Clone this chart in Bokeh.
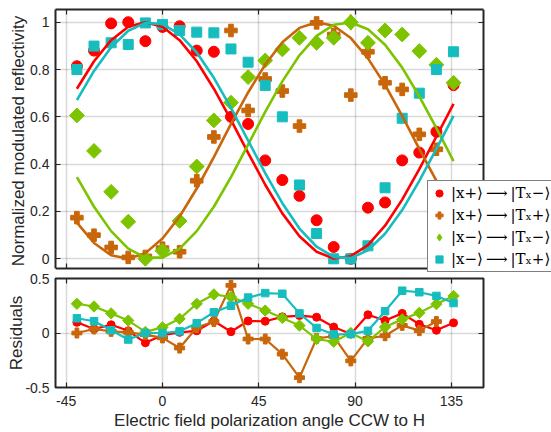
from bokeh.plotting import figure
from bokeh.models import (Range1d, LinearAxis, FixedTicker, Legend, LegendItem,
                          ColumnDataSource)
from bokeh.embed import file_html
from bokeh.resources import INLINE

# ---------------- data ----------------
angles = [-40, -32, -24, -16, -8, 0, 8, 16, 24, 32, 40, 48, 56, 64, 72, 80, 88, 96, 104, 112, 120, 128, 136]
angles_b = [-40, -32, -24, -16, -8, 0, 8, 16, 24, 32, 40, 48, 56, 64, 72, 80, 88, 96, 104, 112, 120, 128]

# measured normalized reflectivity
red_data = [0.814, 0.88, 0.995, 1.0, 0.92, 0.98, 0.983, 0.88, 0.875, 0.60, 0.57, 0.416, 0.333, 0.266, 0.163, 0.05, 0.0, 0.216, 0.238, 0.416, 0.449, 0.537, 0.734]
brown_data = [0.174, 0.10, 0.048, 0.006, 0.01, 0.045, 0.03, 0.33, 0.515, 0.965, 0.627, 0.76, 0.709, 0.561, 0.997, 0.948, 0.692, 0.875, 0.744, 0.716, 0.526, 0.463]
green_data = [0.606, 0.456, 0.283, 0.157, 0.0, 0.034, 0.16, 0.39, 0.585, 0.66, 0.768, 0.838, 0.885, 0.934, 0.913, 0.934, 1.0, 0.913, 0.965, 0.948, 0.878, 0.82, 0.744]
cyan_data = [0.80, 0.899, 0.913, 0.906, 0.997, 0.99, 0.965, 0.958, 0.955, 0.887, 0.831, 0.733, 0.60, 0.312, 0.107, 0.0, 0.0, 0.055, 0.30, 0.594, 0.70, 0.80, 0.875]

# fitted curves read at the same angles
red_fit = [0.719, 0.835, 0.924, 0.981, 1.000, 0.981, 0.924, 0.835, 0.719, 0.587, 0.448, 0.313, 0.192, 0.095, 0.030, 0.001, 0.011, 0.058, 0.140, 0.250, 0.379, 0.517, 0.655]
brown_fit = [0.153, 0.067, 0.015, 0.000, 0.024, 0.086, 0.179, 0.297, 0.430, 0.570, 0.703, 0.821, 0.915, 0.976, 1.000, 0.985, 0.933, 0.847, 0.735, 0.604, 0.465, 0.329, 0.206]
green_fit = [0.345, 0.220, 0.117, 0.043, 0.005, 0.005, 0.043, 0.117, 0.220, 0.345, 0.483, 0.621, 0.750, 0.860, 0.942, 0.989, 0.999, 0.970, 0.905, 0.808, 0.687, 0.552, 0.413]
cyan_fit = [0.671, 0.794, 0.894, 0.964, 0.997, 0.992, 0.949, 0.872, 0.765, 0.638, 0.500, 0.362, 0.235, 0.128, 0.051, 0.008, 0.003, 0.036, 0.106, 0.206, 0.329, 0.465, 0.604]

# residuals
red_res = [0.098, 0.037, 0.075, 0.02, -0.09, -0.02, 0.006, 0.02, 0.11, 0.012, 0.11, 0.108, 0.148, 0.16, 0.145, 0.055, -0.01, 0.167, 0.114, 0.18, 0.08, 0.025, 0.093]
brown_res = [0.0, 0.037, 0.015, 0.006, -0.015, -0.045, -0.138, 0.05, 0.105, 0.437, -0.055, -0.055, -0.194, -0.41, -0.05, -0.03, -0.256, -0.05, -0.025, 0.07, 0.022, 0.105]
green_res = [0.268, 0.243, 0.18, 0.114, 0.01, 0.052, 0.13, 0.268, 0.354, 0.33, 0.268, 0.206, 0.138, 0.068, -0.055, -0.08, 0.0, -0.077, 0.055, 0.125, 0.185, 0.265, 0.34]
cyan_res = [0.135, 0.108, 0.025, -0.06, 0.0, 0.0, 0.015, 0.09, 0.19, 0.25, 0.325, 0.366, 0.36, 0.18, 0.046, -0.012, -0.01, 0.02, 0.2, 0.388, 0.374, 0.34, 0.275]

legend_labels = ["|x+⟩\u2009⟶\u2009|Tₓ−⟩", "|x+⟩\u2009⟶\u2009|Tₓ+⟩", "|x−⟩\u2009⟶\u2009|Tₓ−⟩", "|x−⟩\u2009⟶\u2009|Tₓ+⟩"]

x_ticks = [-45, 0, 45, 90, 135]
x_tick_labels = ["-45", "0", "45", "90", "135"]
y_ticks = [0, 0.2, 0.4, 0.6, 0.8, 1]
y_tick_labels = ["0", "0.2", "0.4", "0.6", "0.8", "1"]
r_ticks = [-0.5, 0, 0.5]
r_tick_labels = ["-0.5", "0", "0.5"]

# axis limits of the two panels
X_LIM = (-50, 150)
Y_LIM = (-0.0397, 1.0537)
R_LIM = (-0.5, 0.5)

# ---------------- styling ----------------
RED = "#FF0000"
BROWN = "#C9660A"
GREEN = "#7DC400"
CYAN = "#17BDBE"
AX = "#262626"
FONT = "Liberation Sans"


def style_axis(ax, ticks, labels, show, line=False):
    ax.ticker = FixedTicker(ticks=ticks)
    ax.major_tick_in = 5
    ax.major_tick_out = 0
    ax.minor_tick_line_color = None
    ax.axis_line_color = AX if line else None
    ax.axis_line_width = 2
    ax.major_tick_line_color = AX
    ax.major_tick_line_width = 1.2
    ax.major_label_text_font = FONT
    ax.major_label_text_color = AX
    if show:
        ax.major_label_overrides = {t: s for t, s in zip(ticks, labels)}
        ax.major_label_text_font_size = "14px"
    else:
        ax.major_label_overrides = {t: "" for t in ticks}
        ax.major_label_text_font_size = "0px"
        ax.major_label_standoff = 0
    ax.axis_label_text_font = FONT
    ax.axis_label_text_font_size = "17px"
    ax.axis_label_text_font_style = "normal"
    ax.axis_label_text_color = AX


def style_grid(g, ticks, cross):
    g.ticker = FixedTicker(ticks=ticks)
    g.grid_line_color = "black"
    g.grid_line_alpha = 0.15
    g.grid_line_width = 1.5
    if cross is not None:
        g.cross_bounds = cross


# ---------------- top panel ----------------
# The frame of this figure runs on to the right edge so that the legend can
# overhang the panel box; the box itself is drawn by bounded axes.
PX_PER_DEG = 428 / (X_LIM[1] - X_LIM[0])
PX_PER_UNIT = 236.6
TOP_W, TOP_H, TOP_L, TOP_T = 551, 272, 55, 9
p1 = figure(width=TOP_W, height=TOP_H,
            x_range=Range1d(X_LIM[0], X_LIM[0] + (TOP_W - TOP_L) / PX_PER_DEG),
            y_range=Range1d(Y_LIM[1] - (TOP_H - TOP_T) / PX_PER_UNIT, Y_LIM[1]),
            output_backend="svg", toolbar_location=None,
            min_border_left=TOP_L, min_border_right=0, min_border_top=TOP_T, min_border_bottom=0)
p1.outline_line_color = None
p1.background_fill_color = "white"
p1.border_fill_color = "white"
style_grid(p1.xgrid[0], x_ticks, Y_LIM)
style_grid(p1.ygrid[0], y_ticks, X_LIM)

style_axis(p1.yaxis[0], y_ticks, y_tick_labels, True, line=True)
p1.yaxis[0].bounds = Y_LIM
p1.yaxis[0].axis_label = "Normalized modulated reflectivity"
p1.yaxis[0].major_label_standoff = 6
p1.yaxis[0].axis_label_standoff = -1

style_axis(p1.xaxis[0], x_ticks, x_tick_labels, False, line=True)
p1.xaxis[0].bounds = X_LIM
p1.xaxis[0].fixed_location = Y_LIM[0]

top_ax = LinearAxis()
style_axis(top_ax, x_ticks, x_tick_labels, False, line=True)
top_ax.bounds = X_LIM
p1.add_layout(top_ax, "above")

right_ax = LinearAxis()
style_axis(right_ax, y_ticks, y_tick_labels, False, line=True)
right_ax.bounds = Y_LIM
right_ax.fixed_location = X_LIM[1]
p1.add_layout(right_ax, "right")

src_r = ColumnDataSource(dict(x=angles, y=red_data))
src_b = ColumnDataSource(dict(x=angles_b, y=brown_data))
src_g = ColumnDataSource(dict(x=angles, y=green_data))
src_c = ColumnDataSource(dict(x=angles, y=cyan_data))
# one green point, drawn underneath, carries the legend's MATLAB-style diamond
src_gk = ColumnDataSource(dict(x=angles[16:17], y=green_data[16:17]))

m_r = p1.scatter("x", "y", source=src_r, marker="circle", size=11, fill_color=RED, line_color=RED)
m_b = p1.scatter("x", "y", source=src_b, marker="plus", size=12.5, fill_color=BROWN, line_color=BROWN)
m_g_key = p1.scatter("x", "y", source=src_gk, marker="diamond", size=16, fill_color=GREEN, line_color=GREEN)
m_g = p1.scatter("x", "y", source=src_g, marker="square", angle=0.7854, size=10.5, fill_color=GREEN, line_color=GREEN)
m_c = p1.scatter("x", "y", source=src_c, marker="square", size=10, fill_color=CYAN, line_color=CYAN)

p1.line(angles, red_fit, line_color=RED, line_width=2.6)
p1.line(angles, brown_fit, line_color=BROWN, line_width=2.6)
p1.line(angles, green_fit, line_color=GREEN, line_width=2.6)
p1.line(angles, cyan_fit, line_color=CYAN, line_width=2.6)

legend = Legend(items=[LegendItem(label=lab, renderers=[r]) for lab, r in
                       zip(legend_labels, [m_r, m_b, m_g_key, m_c])],
                location=(372, 0), orientation="vertical",
                label_text_font="DejaVu Serif", label_text_font_size="15px",
                label_text_color="black",
                glyph_width=18, glyph_height=20, label_height=20, label_standoff=3,
                spacing=2, padding=2, margin=0,
                border_line_color="black", border_line_width=1,
                background_fill_color="white", background_fill_alpha=1.0)
p1.add_layout(legend)

# ---------------- residual panel ----------------
p2 = figure(width=551, height=432 - TOP_H, x_range=Range1d(*X_LIM), y_range=Range1d(*R_LIM),
            output_backend="svg", toolbar_location=None,
            min_border_left=55, min_border_right=68, min_border_top=6, min_border_bottom=45)
p2.outline_line_color = AX
p2.outline_line_width = 2
p2.background_fill_color = "white"
p2.border_fill_color = "white"
style_grid(p2.xgrid[0], x_ticks, None)
style_grid(p2.ygrid[0], r_ticks, None)

style_axis(p2.xaxis[0], x_ticks, x_tick_labels, True)
p2.xaxis[0].axis_label = "Electric field polarization angle CCW to H"
p2.xaxis[0].major_label_standoff = 8
p2.xaxis[0].axis_label_standoff = 2
style_axis(p2.yaxis[0], r_ticks, r_tick_labels, True)
p2.yaxis[0].axis_label = "Residuals"
p2.yaxis[0].major_label_standoff = 6
p2.yaxis[0].axis_label_standoff = -4
top_ax2 = LinearAxis()
style_axis(top_ax2, x_ticks, x_tick_labels, False)
p2.add_layout(top_ax2, "above")
right_ax2 = LinearAxis()
style_axis(right_ax2, r_ticks, r_tick_labels, False)
p2.add_layout(right_ax2, "right")

for xs, ys, col, mk, sz, ang in ((angles, red_res, RED, "circle", 8, 0),
                                 (angles_b, brown_res, BROWN, "plus", 10, 0),
                                 (angles, green_res, GREEN, "square", 8, 0.7854),
                                 (angles, cyan_res, CYAN, "square", 7.5, 0)):
    p2.line(xs, ys, line_color=col, line_width=2.2)
    p2.scatter(xs, ys, marker=mk, size=sz, angle=ang, fill_color=col, line_color=col)

open("out.html", "w").write(file_html([p1, p2], INLINE))
